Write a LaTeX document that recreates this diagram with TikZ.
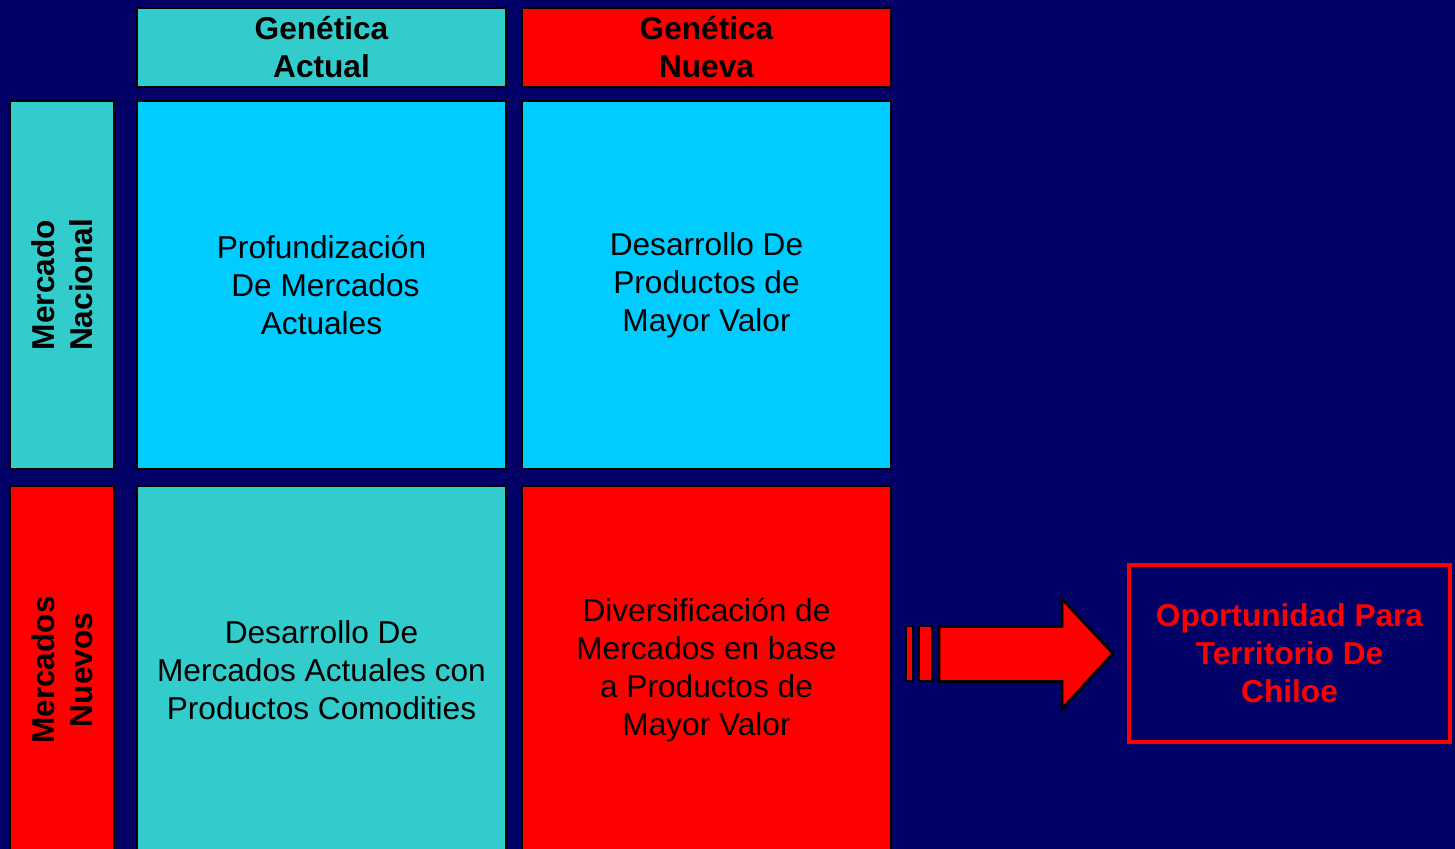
\documentclass[tikz,border=0pt]{standalone}
\usepackage{fontspec}
\setmainfont{Liberation Sans}
\usepackage{tikz}
\usetikzlibrary{positioning}
\definecolor{navy}{HTML}{000066}
\definecolor{teal}{HTML}{33CCCC}
\definecolor{cyan}{HTML}{00CCFF}
\definecolor{rojo}{HTML}{FF0000}

\begin{document}
\begin{tikzpicture}[line width=0.6pt,outer sep=0pt,font=\fontsize{9}{10.8}\selectfont,node distance=0.16cm,
	hdr/.style={draw=black,rectangle,inner sep=1pt,minimum width=3.69cm,minimum height=0.79cm,align=center,font=\fontsize{9}{10.8}\selectfont\bfseries},
	cell/.style={draw=black,rectangle,minimum width=3.69cm,minimum height=3.68cm,align=center},
	side/.style={draw=black,rectangle,rotate=90,anchor=south,minimum width=3.68cm,minimum height=1.04cm,align=center,font=\fontsize{9}{10.8}\selectfont\bfseries},
	blk/.style={draw=black,fill=rojo,line width=0.8pt}]
	\clip (0,0) rectangle (14.55,8.49);
	\fill[navy] (0,0) rectangle (14.55,8.49);

	\node[hdr,fill=teal]	(actual)	at (3.215,8.015)			{Genética\\Actual};
	\node[hdr,fill=rojo]	(nueva)		[right=of actual]			{Genética\\Nueva};
	\node[cell,fill=cyan]	(prof)		[below=0.14cm of actual]	{Profundización\\\hspace{0.25em}De Mercados\\Actuales};
	\node[cell,fill=cyan]	(prod)		[below=0.14cm of nueva]		{Desarrollo De\\Productos de\\Mayor Valor};
	\node[cell,fill=teal]	(comod)		[below=0.17cm of prof]		{Desarrollo De\\Mercados Actuales con\\Productos Comodities};
	\node[cell,fill=rojo]	(div)		[below=0.17cm of prod]		{Diversificación de\\Mercados en base\\a Productos de\\Mayor Valor};
	\node[side,fill=teal]	(nac)		at ([xshift=-0.23cm]prof.west)	{Mercado\\Nacional};
	\node[side,fill=rojo]	(nue)		at ([xshift=-0.23cm]comod.west)	{Mercados\\Nuevos};
	\node[draw=rojo,line width=0.9pt,minimum width=3.21cm,minimum height=1.77cm,align=center,text=rojo,font=\fontsize{9}{10.8}\selectfont\bfseries]
							(chil)		at (12.895,1.955)			{Oportunidad Para\\Territorio De\\Chiloe};

	\coordinate (tip) at ([xshift=-0.16cm]chil.west);
	\draw[blk] (tip) -- ++(-0.51,0.545) -- ++(0,-0.275) -- ++(-1.23,0) -- ++(0,-0.55) -- ++(1.23,0) -- ++(0,-0.275) -- cycle;
	\draw[blk] ([xshift=-2.07cm,yshift=0.275cm]tip) rectangle ++(0.07,-0.55);
	\draw[blk] ([xshift=-1.94cm,yshift=0.275cm]tip) rectangle ++(0.13,-0.55);
\end{tikzpicture}
\end{document}
